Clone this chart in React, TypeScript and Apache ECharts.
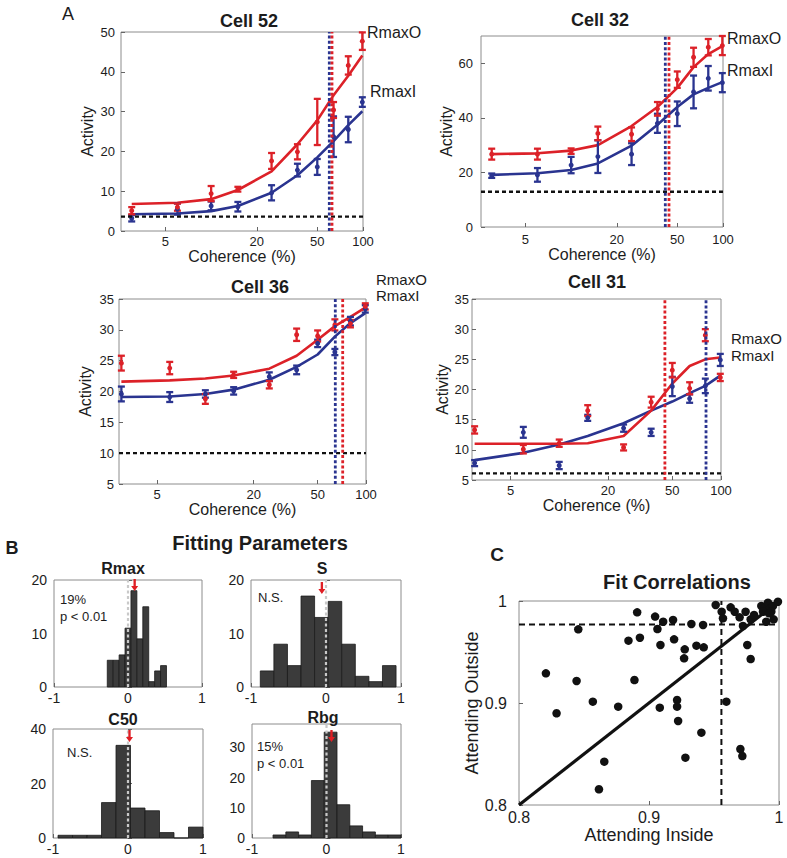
import React, { useEffect, useRef } from 'react';
import * as echarts from 'echarts';

const FONT = "'Liberation Sans', Arial, Helvetica, sans-serif";
const RED = '#dc2128';
const BLUE = '#2a3490';
const INK = '#1c1c1c';

// ---------- Panel A data ----------
const coherence = [3, 6, 10, 15, 25, 37, 50, 64, 80, 99];
const coherenceTicks = [5, 20, 50, 100];

// Cell 52
const c52RedMean = [5.1, 6.0, 9.4, 10.5, 17.6, 19.9, 27.4, 30.4, 41.6, 47.7];
const c52RedErr = [0.9, 0.9, 1.9, 0.6, 2.0, 1.9, 5.8, 2.0, 2.3, 2.2];
const c52BlueMean = [3.2, 5.5, 6.3, 6.1, 9.6, 15.3, 16.1, 23.7, 25.5, 32.4];
const c52BlueErr = [0.8, 1.4, 1.1, 1.2, 1.9, 1.6, 2.0, 5.1, 3.2, 1.2];
const c52RedFit = [6.8, 7.1, 8.0, 10.3, 15.0, 21.8, 27.8, 34.1, 39.0, 44.1];
const c52BlueFit = [4.2, 4.4, 5.0, 6.3, 9.6, 14.0, 18.5, 22.6, 26.6, 30.1];
const c52Baseline = 3.6;
const c52C50Red = 62.5;
const c52C50Blue = 60;

// Cell 32
const c32RedMean = [26.7, 26.7, 27.8, 34.3, 34.0, 43.3, 54.0, 62.2, 65.9, 66.5];
const c32RedErr = [2.0, 2.0, 1.0, 2.5, 2.5, 2.5, 3.0, 3.5, 3.0, 3.5];
const c32BlueMean = [18.8, 19.1, 22.7, 25.8, 26.7, 38.0, 41.5, 49.5, 54.5, 52.9];
const c32BlueErr = [0.8, 2.5, 3.0, 6.0, 4.0, 3.5, 4.5, 6.0, 4.5, 3.5];
const c32RedFit = [26.7, 27.0, 28.0, 30.0, 37.0, 44.0, 51.0, 58.6, 63.4, 66.3];
const c32BlueFit = [19.1, 19.7, 20.9, 23.3, 29.8, 37.5, 44.0, 48.6, 51.0, 53.1];
const c32Baseline = 12.9;
const c32C50Red = 44.1;
const c32C50Blue = 41.7;

// Cell 36
const c36RedMean = [24.6, 23.8, 18.8, 22.7, 21.1, 29.2, 29.0, 30.8, 31.0, 33.8];
const c36RedErr = [1.2, 1.0, 0.8, 0.5, 0.6, 1.0, 0.9, 0.9, 0.6, 0.5];
const c36BlueMean = [19.6, 19.1, 19.6, 20.1, 22.4, 23.5, 27.8, 26.4, 31.4, 33.4];
const c36BlueErr = [1.2, 0.8, 0.6, 0.6, 0.7, 0.7, 0.6, 0.5, 0.7, 0.6];
const c36RedFit = [21.6, 21.8, 22.1, 22.6, 23.7, 25.8, 28.4, 30.6, 32.1, 33.6];
const c36BlueFit = [19.1, 19.2, 19.6, 20.3, 21.9, 24.0, 26.0, 28.9, 31.1, 32.7];
const c36Baseline = 10;
const c36C50Red = 71.6;
const c36C50Blue = 64.4;

// Cell 31
const c31RedMean = [13.3, 10.1, 11.1, 16.5, 10.4, 17.9, 23.2, 20.2, 29.0, 22.0];
const c31RedErr = [0.6, 0.7, 0.6, 0.9, 0.5, 0.9, 1.2, 1.0, 1.0, 0.6];
const c31BlueMean = [7.8, 12.9, 7.4, 15.3, 13.6, 12.9, 20.5, 18.5, 20.6, 24.9];
const c31BlueErr = [0.5, 0.9, 0.6, 0.5, 0.6, 0.6, 1.6, 0.7, 1.2, 1.0];
const c31RedFit = [11.0, 11.0, 11.0, 11.1, 12.3, 16.5, 21.0, 23.9, 25.0, 25.3];
const c31BlueFit = [8.3, 9.5, 10.9, 12.3, 14.4, 16.5, 18.0, 19.4, 20.6, 22.3];
const c31Baseline = 6.1;
const c31C50Red = 45;
const c31C50Blue = 80.8;

// ---------- Panel B data ----------
const rmaxBinStart = -0.28;
const rmaxBinWidth = 0.08;
const rmaxCounts = [5, 5, 6, 11, 18, 9, 15, 1, 3, 4];
const rmaxMean = 0.09;

const sBinStart = -0.876;
const sBinWidth = 0.181;
const sCounts = [3, 8, 4, 17, 13, 16, 8, 2, 1, 4];
const sMean = -0.055;

const c50BinStart = -0.933;
const c50BinWidth = 0.1933;
const c50Counts = [1, 1, 1, 13, 34, 11, 10, 2, 0, 4];
const c50Mean = 0.02;

const rbgBinStart = -0.7175;
const rbgBinWidth = 0.1717;
const rbgCounts = [1, 2, 1, 19, 35, 11, 4, 2, 1, 1];
const rbgMean = 0.067;

// ---------- Panel C data ----------
const attendInside = [
  0.8207, 0.8289, 0.8443, 0.8456, 0.8568, 0.8615, 0.8656, 0.8763, 0.8842, 0.8909,
  0.893, 0.8888, 0.9047, 0.9065, 0.9109, 0.9088, 0.9083, 0.9185, 0.9193, 0.9216,
  0.9216, 0.9224, 0.9275, 0.927, 0.928, 0.9326, 0.9365, 0.9403, 0.9416, 0.9421,
  0.9513, 0.9559, 0.9569, 0.9595, 0.9628, 0.9659, 0.9697, 0.9743, 0.9723, 0.9756,
  0.9782, 0.9703, 0.9718, 0.9782, 0.9808, 0.9864, 0.989, 0.9915, 0.9928, 0.9954,
  0.9941, 0.9902, 0.9959, 0.9992, 0.9877, 0.9923,
];
const attendOutside = [
  0.9291, 0.8899, 0.9216, 0.9722, 0.9013, 0.8154, 0.8425, 0.8964, 0.9611, 0.9889,
  0.964, 0.9225, 0.9847, 0.9725, 0.9797, 0.9569, 0.8954, 0.9814, 0.9624, 0.9029,
  0.8964, 0.8824, 0.9526, 0.9438, 0.8464, 0.9775, 0.9562, 0.8709, 0.9765, 0.9546,
  0.9961, 0.9895, 0.983, 0.9013, 0.9938, 0.9895, 0.984, 0.9895, 0.9755, 0.9569,
  0.9431, 0.8549, 0.848, 0.982, 0.9863, 0.9951, 0.9938, 0.9984, 0.9928, 0.9951,
  0.9895, 0.9797, 0.982, 0.9993, 0.9895, 0.9879,
];
const outsideCriterion = 0.977;
const insideCriterion = 0.9557;

// ---------- builders ----------
const lg = (v: number) => Math.log10(v);

const panels = [
  { red: c52RedMean, redErr: c52RedErr, blue: c52BlueMean, blueErr: c52BlueErr, redFit: c52RedFit, blueFit: c52BlueFit, base: c52Baseline, c50r: c52C50Red, c50b: c52C50Blue, xmin: 2.55, ymin: 0, ymax: 50, yint: 10, yMargin: 6, yNameGap: 26, xMargin: 4, xNameGap: 17 },
  { red: c32RedMean, redErr: c32RedErr, blue: c32BlueMean, blueErr: c32BlueErr, redFit: c32RedFit, blueFit: c32BlueFit, base: c32Baseline, c50r: c32C50Red, c50b: c32C50Blue, xmin: 2.55, ymin: 0, ymax: 70, yint: 20, yMargin: 8, yNameGap: 25, xMargin: 6, xNameGap: 16 },
  { red: c36RedMean, redErr: c36RedErr, blue: c36BlueMean, blueErr: c36BlueErr, redFit: c36RedFit, blueFit: c36BlueFit, base: c36Baseline, c50r: c36C50Red, c50b: c36C50Blue, xmin: 2.9, ymin: 5, ymax: 35, yint: 5, yMargin: 5, yNameGap: 26, xMargin: 4, xNameGap: 10 },
  { red: c31RedMean, redErr: c31RedErr, blue: c31BlueMean, blueErr: c31BlueErr, redFit: c31RedFit, blueFit: c31BlueFit, base: c31Baseline, c50r: c31C50Red, c50b: c31C50Blue, xmin: 2.89, ymin: 5, ymax: 35, yint: 5, yMargin: 3, yNameGap: 21, xMargin: 4, xNameGap: 10 },
];

const hists = [
  { start: rmaxBinStart, width: rmaxBinWidth, counts: rmaxCounts, mean: rmaxMean, ymax: 20, yint: 10, arrowOff: 5 },
  { start: sBinStart, width: sBinWidth, counts: sCounts, mean: sMean, ymax: 20, yint: 10, arrowOff: 8 },
  { start: c50BinStart, width: c50BinWidth, counts: c50Counts, mean: c50Mean, ymax: 40, yint: 20, arrowOff: 7 },
  { start: rbgBinStart, width: rbgBinWidth, counts: rbgCounts, mean: rbgMean, ymax: 37.7, yint: 10, arrowOff: 12 },
];

const gridBoxes = [
  { left: 121, top: 32, width: 242, height: 199 },
  { left: 481, top: 36, width: 242, height: 191 },
  { left: 119, top: 299, width: 247, height: 185 },
  { left: 472, top: 299, width: 249, height: 181 },
  { left: 54, top: 580, width: 148, height: 107 },
  { left: 251, top: 580, width: 150, height: 107 },
  { left: 53, top: 729, width: 150, height: 109 },
  { left: 252, top: 724, width: 149, height: 114 },
  { left: 519, top: 601, width: 260, height: 204 },
];

const errRender = (color: string) => (params: any, api: any) => {
  const x = api.value(0);
  const y = api.value(1);
  const e = api.value(2);
  const t = api.coord([x, y + e]);
  const b = api.coord([x, y - e]);
  const hw = 3.5;
  const st = { stroke: color, lineWidth: 2.3 };
  return {
    type: 'group',
    children: [
      { type: 'line', shape: { x1: t[0], y1: t[1], x2: b[0], y2: b[1] }, style: st },
      { type: 'line', shape: { x1: t[0] - hw, y1: t[1], x2: t[0] + hw, y2: t[1] }, style: st },
      { type: 'line', shape: { x1: b[0] - hw, y1: b[1], x2: b[0] + hw, y2: b[1] }, style: st },
    ],
  };
};

const barRender = (params: any, api: any) => {
  const p0 = api.coord([api.value(0), api.value(2)]);
  const p1 = api.coord([api.value(1), 0]);
  return {
    type: 'rect',
    shape: { x: p0[0], y: p0[1], width: p1[0] - p0[0], height: p1[1] - p0[1] },
    style: { fill: '#3b3b3b', stroke: '#1a1a1a', lineWidth: 0.8 },
  };
};

const tickStyle = { inside: true, length: 4, lineStyle: { color: '#666', width: 1 } };

function buildOption() {
  const grid = gridBoxes.map((g) => ({
    ...g,
    show: true,
    borderColor: '#8c8c8c',
    borderWidth: 1,
    backgroundColor: 'transparent',
    containLabel: false,
    outerBoundsMode: 'none',
  }));
  const xAxis: any[] = [];
  const yAxis: any[] = [];
  const series: any[] = [];

  panels.forEach((p, i) => {
    const tv = coherenceTicks.map(lg);
    xAxis.push({
      type: 'value', gridIndex: i, min: lg(p.xmin), max: 2,
      axisLine: { show: false }, splitLine: { show: false },
      axisTick: { ...tickStyle, customValues: tv },
      axisLabel: {
        customValues: tv, fontSize: 13, color: INK, fontFamily: FONT, margin: p.xMargin,
        formatter: (v: number) => String(Math.round(Math.pow(10, v))),
      },
      name: 'Coherence (%)', nameLocation: 'middle', nameGap: p.xNameGap,
      nameTextStyle: { fontSize: 16, color: INK, fontFamily: FONT },
    });
    yAxis.push({
      type: 'value', gridIndex: i, min: p.ymin, max: p.ymax, interval: p.yint,
      axisLine: { show: false }, splitLine: { show: false },
      axisTick: tickStyle,
      axisLabel: { fontSize: 13, color: INK, fontFamily: FONT, margin: p.yMargin, showMaxLabel: p.ymax % p.yint === 0 },
      name: 'Activity', nameLocation: 'middle', nameGap: p.yNameGap, nameRotate: 90,
      nameTextStyle: { fontSize: 16, color: INK, fontFamily: FONT },
    });
    const ax = { xAxisIndex: i, yAxisIndex: i };
    const pts = (vals: number[]) => coherence.map((c, k) => [lg(c), vals[k]]);
    const errPts = (vals: number[], errs: number[]) => coherence.map((c, k) => [lg(c), vals[k], errs[k]]);
    series.push(
      { type: 'line', ...ax, data: pts(p.blueFit), symbol: 'none', lineStyle: { color: BLUE, width: 2.6 }, silent: true, z: 2 },
      { type: 'line', ...ax, data: pts(p.redFit), symbol: 'none', lineStyle: { color: RED, width: 2.6 }, silent: true, z: 2 },
      { type: 'custom', ...ax, renderItem: errRender(BLUE), data: errPts(p.blue, p.blueErr), encode: { x: 0, y: 1 }, silent: true, z: 3 },
      { type: 'custom', ...ax, renderItem: errRender(RED), data: errPts(p.red, p.redErr), encode: { x: 0, y: 1 }, silent: true, z: 3 },
      { type: 'scatter', ...ax, data: pts(p.blue), symbolSize: 5, itemStyle: { color: BLUE, opacity: 1 }, silent: true, z: 4 },
      { type: 'scatter', ...ax, data: pts(p.red), symbolSize: 5, itemStyle: { color: RED, opacity: 1 }, silent: true, z: 4 },
      { type: 'line', ...ax, data: [[lg(p.xmin), p.base], [2, p.base]], symbol: 'none', lineStyle: { color: '#111', width: 2.4, type: [4, 3] }, silent: true, z: 5 },
      { type: 'line', ...ax, data: [[lg(p.c50b), p.ymin], [lg(p.c50b), p.ymax]], symbol: 'none', lineStyle: { color: BLUE, width: 2.8, type: [3, 2.2] }, silent: true, z: 5 },
      { type: 'line', ...ax, data: [[lg(p.c50r), p.ymin], [lg(p.c50r), p.ymax]], symbol: 'none', lineStyle: { color: RED, width: 2.8, type: [3, 2.2] }, silent: true, z: 5 },
    );
  });

  hists.forEach((h, j) => {
    const i = 4 + j;
    xAxis.push({
      type: 'value', gridIndex: i, min: -1, max: 1, interval: 1,
      axisLine: { show: false }, splitLine: { show: false }, axisTick: tickStyle,
      axisLabel: { fontSize: 14, color: INK, fontFamily: FONT, margin: 4 },
    });
    yAxis.push({
      type: 'value', gridIndex: i, min: 0, max: h.ymax, interval: h.yint,
      axisLine: { show: false }, splitLine: { show: false }, axisTick: tickStyle,
      axisLabel: { fontSize: 14, color: INK, fontFamily: FONT, margin: 7, showMaxLabel: h.ymax % h.yint === 0 },
    });
    const ax = { xAxisIndex: i, yAxisIndex: i };
    const bars = h.counts.map((c, k) => [h.start + k * h.width, h.start + (k + 1) * h.width, c]);
    series.push(
      { type: 'custom', ...ax, renderItem: barRender, data: bars, encode: { x: [0, 1], y: 2 }, silent: true, z: 2 },
      { type: 'line', ...ax, data: [[0, 0], [0, h.ymax]], symbol: 'none', lineStyle: { color: '#c9c9c9', width: 2.2, type: [3, 2.5] }, silent: true, z: 4 },
      {
        type: 'scatter', ...ax, data: [[h.mean, h.ymax]],
        symbol: 'path://M2,0 L4,0 L4,7 L6,7 L3,12 L0,7 L2,7 Z', symbolSize: [7, 12],
        symbolOffset: [0, h.arrowOff], itemStyle: { color: '#e01e24', opacity: 1 }, silent: true, z: 5, clip: false,
      },
    );
  });

  // scatter panel C
  const si = 8;
  const fmt = (v: number) => (Math.abs(v - 1) < 1e-9 ? '1' : v.toFixed(1));
  xAxis.push({
    type: 'value', gridIndex: si, min: 0.8, max: 1, interval: 0.1,
    axisLine: { show: false }, splitLine: { show: false }, axisTick: tickStyle,
    axisLabel: { fontSize: 16, color: INK, fontFamily: FONT, margin: 4, formatter: fmt },
    name: 'Attending Inside', nameLocation: 'middle', nameGap: 17,
    nameTextStyle: { fontSize: 18, color: INK, fontFamily: FONT },
  });
  yAxis.push({
    type: 'value', gridIndex: si, min: 0.8, max: 1, interval: 0.1,
    axisLine: { show: false }, splitLine: { show: false }, axisTick: tickStyle,
    axisLabel: { fontSize: 16, color: INK, fontFamily: FONT, margin: 12, formatter: fmt },
    name: 'Attending Outside', nameLocation: 'middle', nameGap: 33, nameRotate: 90,
    nameTextStyle: { fontSize: 18, color: INK, fontFamily: FONT },
  });
  const sax = { xAxisIndex: si, yAxisIndex: si };
  series.push(
    { type: 'line', ...sax, data: [[0.8, 0.8], [1, 1]], symbol: 'none', lineStyle: { color: '#111', width: 3.2 }, silent: true, z: 2 },
    { type: 'line', ...sax, data: [[0.8, outsideCriterion], [1, outsideCriterion]], symbol: 'none', lineStyle: { color: '#111', width: 2, type: [6, 4] }, silent: true, z: 2 },
    { type: 'line', ...sax, data: [[insideCriterion, 0.8], [insideCriterion, 1]], symbol: 'none', lineStyle: { color: '#111', width: 2, type: [6, 4] }, silent: true, z: 2 },
    { type: 'scatter', ...sax, data: attendInside.map((x, k) => [x, attendOutside[k]]), symbolSize: 8.5, itemStyle: { color: '#111', opacity: 1 }, silent: true, z: 3, clip: false },
  );

  const txt = (x: number, y: number, s: string, size: number, bold = false, align = 'center') => ({
    type: 'text', x, y, silent: true,
    style: {
      text: s, fontSize: size, fontWeight: bold ? 'bold' : 'normal', fontFamily: FONT, fill: INK,
      textAlign: align, align, textVerticalAlign: 'middle', verticalAlign: 'middle',
    },
  });

  const graphic = [
    txt(68, 14, 'A', 18),
    txt(12, 548, 'B', 18, true),
    txt(497, 554, 'C', 19, true),
    txt(249, 21, 'Cell 52', 18, true),
    txt(600, 20, 'Cell 32', 18, true),
    txt(260, 287, 'Cell 36', 18, true),
    txt(597, 282, 'Cell 31', 18, true),
    txt(367, 32, 'RmaxO', 16, false, 'left'),
    txt(370, 91, 'RmaxI', 16, false, 'left'),
    txt(727, 38, 'RmaxO', 16, false, 'left'),
    txt(727, 70, 'RmaxI', 16, false, 'left'),
    txt(376, 279, 'RmaxO', 15, false, 'left'),
    txt(376, 295, 'RmaxI', 15, false, 'left'),
    txt(731, 338, 'RmaxO', 15, false, 'left'),
    txt(731, 355, 'RmaxI', 15, false, 'left'),
    txt(260, 543, 'Fitting Parameters', 20, true),
    txt(123, 568, 'Rmax', 16, true),
    txt(322, 568, 'S', 16, true),
    txt(123, 719, 'C50', 16, true),
    txt(323, 717, 'Rbg', 16, true),
    txt(60, 599, '19%', 13, false, 'left'),
    txt(60, 616, 'p < 0.01', 13, false, 'left'),
    txt(258, 597, 'N.S.', 13, false, 'left'),
    txt(67, 752, 'N.S.', 13, false, 'left'),
    txt(257, 746, '15%', 13, false, 'left'),
    txt(257, 763, 'p < 0.01', 13, false, 'left'),
    txt(677, 582, 'Fit Correlations', 20, true),
  ];

  return {
    animation: false,
    backgroundColor: '#ffffff',
    textStyle: { fontFamily: FONT },
    grid, xAxis, yAxis, series, graphic,
  };
}

export default function App() {
  const ref = useRef<HTMLDivElement>(null);
  useEffect(() => {
    if (!ref.current) return;
    const chart = echarts.init(ref.current, null, { renderer: 'svg' });
    chart.setOption(buildOption() as any);
    return () => chart.dispose();
  }, []);
  return (
    <div
      ref={ref}
      style={{ position: 'absolute', left: 0, top: 0, width: 787, height: 858, background: '#fff' }}
    />
  );
}
